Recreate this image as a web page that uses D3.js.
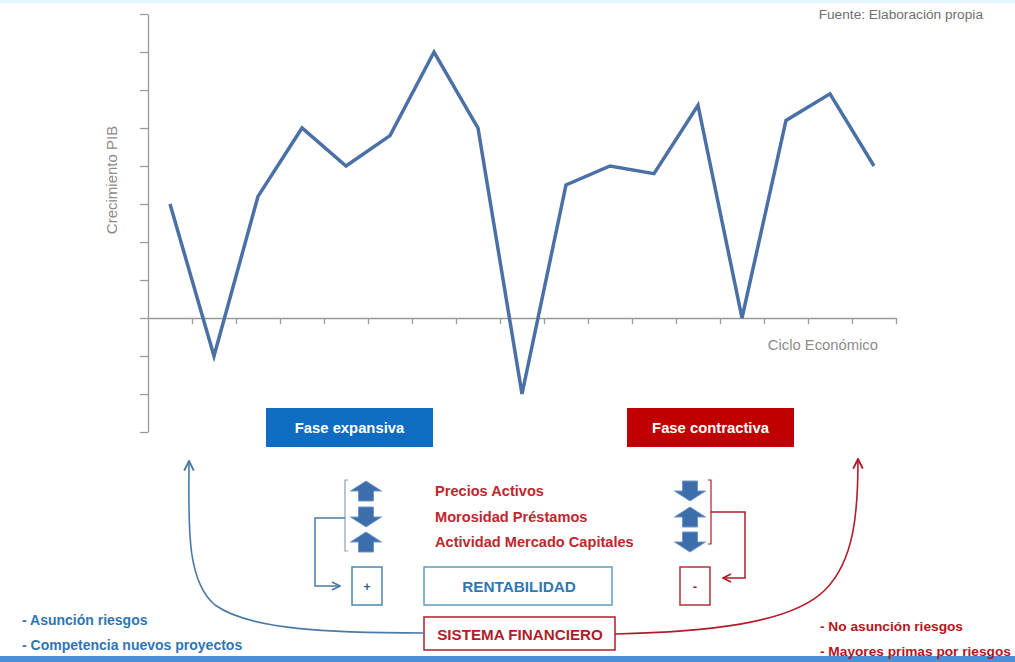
<!DOCTYPE html>
<html><head><meta charset="utf-8">
<script src="https://cdn.jsdelivr.net/npm/d3@7"></script>
<style>
html,body{margin:0;padding:0;background:#fff;}
svg{display:block;font-family:"Liberation Sans",Arial,sans-serif;}
</style></head>
<body>
<svg id="chart" width="1015" height="662"></svg>
<script>
// ---- data ----
const periods = ["P1","P2","P3","P4","P5","P6","P7","P8","P9","P10","P11","P12","P13","P14","P15","P16","P17"];
const gdpGrowth = [3.0, -1.0, 3.2, 5.0, 4.0, 4.8, 7.0, 5.0, -2.0, 3.5, 4.0, 3.8, 5.6, 0.0, 5.2, 5.9, 4.0];
const yTicks = [-3,-2,-1,0,1,2,3,4,5,6,7,8];
const yLabel = "Crecimiento PIB";
const xLabel = "Ciclo Económico";
const source = "Fuente: Elaboración propia";
const phases = ["Fase expansiva", "Fase contractiva"];
const factors = ["Precios Activos", "Morosidad Préstamos", "Actividad Mercado Capitales"];
const expansionDirs = ["up", "down", "up"];
const contractionDirs = ["down", "up", "down"];
const signs = ["+", "-"];
const centerLabels = ["RENTABILIDAD", "SISTEMA FINANCIERO"];
const leftNotes = ["- Asunción riesgos", "- Competencia nuevos proyectos"];
const rightNotes = ["- No asunción riesgos", "- Mayores primas por riesgos"];

const svg = d3.select("#chart");
const blue = "#0f6cc0", red = "#c00000", lineBlue = "#4a70a6", grey = "#8c8c8c";
const bcol = "#4a7aa8", rcol = "#b01c2a";

// top and bottom frame bands
svg.append("rect").attr("x",0).attr("y",0).attr("width",1015).attr("height",3).attr("fill","#e4f6fb");
svg.append("rect").attr("x",0).attr("y",656).attr("width",1015).attr("height",6).attr("fill","#4a8fd8");

// ---- scales ----
const x = d3.scaleLinear().domain([0, periods.length]).range([148, 896]);
const y = d3.scaleLinear().domain([-3, 8]).range([432, 14]);

// y axis
const yAxis = svg.append("g").attr("transform","translate(148,0)")
  .call(d3.axisLeft(y).tickValues(yTicks).tickSize(8).tickSizeOuter(0).tickFormat(""));
yAxis.selectAll("path,line").attr("stroke","#9a9a9a").attr("stroke-width",1.3);

// x axis (category boundaries)
const xAxis = svg.append("g").attr("transform",`translate(0,${y(0)})`)
  .call(d3.axisBottom(x).tickValues(d3.range(1, periods.length + 1)).tickSize(6).tickSizeOuter(0).tickFormat(""));
xAxis.selectAll("path,line").attr("stroke","#9a9a9a").attr("stroke-width",1.3);

// line
const line = d3.line().x((d,i) => x(i + 0.5)).y(d => y(d));
svg.append("path").datum(gdpGrowth).attr("d", line)
  .attr("fill","none").attr("stroke", lineBlue).attr("stroke-width",3.5).attr("stroke-linejoin","miter");

// axis titles
svg.append("text").attr("transform","translate(117,180) rotate(-90)").attr("text-anchor","middle")
  .attr("font-size",15).attr("fill",grey).text(yLabel);
svg.append("text").attr("x",878).attr("y",350).attr("text-anchor","end")
  .attr("font-size",14.8).attr("fill",grey).text(xLabel);
svg.append("text").attr("x",983).attr("y",19).attr("text-anchor","end")
  .attr("font-size",13.7).attr("fill","#707070").text(source);

// phase boxes
const phaseX = [266, 627], phaseCol = [blue, red];
phases.forEach((p,i) => {
  svg.append("rect").attr("x",phaseX[i]).attr("y",408).attr("width",167).attr("height",39).attr("fill",phaseCol[i]);
  svg.append("text").attr("x",phaseX[i]+83.5).attr("y",433).attr("text-anchor","middle")
    .attr("font-size",14.8).attr("font-weight","bold").attr("fill","#fff").text(p);
});

// block arrows
function blockArrow(cx, cy, dir){
  const w=31, hh=10, sw=15, sh=10;
  const s = dir === "up" ? 1 : -1;
  const top = cy - s*(hh+sh)/2;
  const pts = [
    [cx, top],
    [cx + w/2, top + s*hh],
    [cx + sw/2, top + s*hh],
    [cx + sw/2, top + s*(hh+sh)],
    [cx - sw/2, top + s*(hh+sh)],
    [cx - sw/2, top + s*hh],
    [cx - w/2, top + s*hh]
  ];
  svg.append("path").attr("d", d3.line()(pts) + "Z")
    .attr("fill","#3d6eac").attr("stroke","#6d95c6").attr("stroke-width",1);
}
const rowY = [491, 517, 542];
expansionDirs.forEach((d,i) => blockArrow(366, rowY[i], d));
contractionDirs.forEach((d,i) => blockArrow(690, rowY[i], d));

// factor texts
factors.forEach((f,i) => {
  svg.append("text").attr("x",435).attr("y",rowY[i]+5).attr("font-size",14.6).attr("font-weight","bold")
    .attr("fill","#c0262d").text(f);
});

// markers
const defs = svg.append("defs");
function marker(id, col, size){
  defs.append("marker").attr("id",id).attr("viewBox","0 0 10 10").attr("refX",9).attr("refY",5)
    .attr("markerWidth",size).attr("markerHeight",size).attr("markerUnits","userSpaceOnUse").attr("orient","auto")
    .append("path").attr("d","M1,1 L9,5 L1,9").attr("fill","none").attr("stroke",col).attr("stroke-width",1.6);
}
marker("mb", bcol, 10); marker("mr", rcol, 10);
marker("mb2", bcol, 12); marker("mr2", rcol, 12);

// left bracket + connector
svg.append("path").attr("d","M348,480 L345,480 L345,551 L348,551").attr("fill","none").attr("stroke","#8aa0b8").attr("stroke-width",1.2);
svg.append("path").attr("d","M345,518 L315,518 L315,586 L340,586").attr("fill","none").attr("stroke",bcol).attr("stroke-width",1.5).attr("marker-end","url(#mb)");
// right bracket + connector
svg.append("path").attr("d","M708,480 L711,480 L711,544 L708,544").attr("fill","none").attr("stroke",rcol).attr("stroke-width",1.2);
svg.append("path").attr("d","M711,512 L745,512 L745,578 L723,578").attr("fill","none").attr("stroke",rcol).attr("stroke-width",1.5).attr("marker-end","url(#mr)");

// sign boxes
const signX = [352, 680], signCol = ["#4a86b0", "#b0303a"], signTxt = ["#2e5f8e", "#8a1a22"];
signs.forEach((s,i) => {
  svg.append("rect").attr("x",signX[i]).attr("y",567).attr("width",30).attr("height",38)
    .attr("fill","#fff").attr("stroke",signCol[i]).attr("stroke-width",1.5);
  svg.append("text").attr("x",signX[i]+15).attr("y",591).attr("text-anchor","middle")
    .attr("font-size",12).attr("font-weight","bold").attr("fill",signTxt[i]).text(s);
});

// center boxes
svg.append("rect").attr("x",424).attr("y",567).attr("width",188).attr("height",38)
  .attr("fill","#fff").attr("stroke","#5f9cc0").attr("stroke-width",1.5);
svg.append("text").attr("x",519).attr("y",592).attr("text-anchor","middle").attr("font-size",15.3)
  .attr("font-weight","bold").attr("fill","#2f78b4").text(centerLabels[0]);
svg.append("rect").attr("x",424).attr("y",617).attr("width",191).attr("height",33)
  .attr("fill","#fff").attr("stroke",rcol).attr("stroke-width",1.5);
svg.append("text").attr("x",520).attr("y",639.5).attr("text-anchor","middle").attr("font-size",15.2)
  .attr("font-weight","bold").attr("fill","#b01c2a").text(centerLabels[1]);

// curved arrows
svg.append("path").attr("d","M424,633 C330,633 250,630 215,605 C185,580 189,520 189,461")
  .attr("fill","none").attr("stroke",bcol).attr("stroke-width",1.6).attr("marker-end","url(#mb2)");
svg.append("path").attr("d","M615,634 C700,632 790,625 825,590 C855,560 858,510 858,459")
  .attr("fill","none").attr("stroke",rcol).attr("stroke-width",1.6).attr("marker-end","url(#mr2)");

// notes
leftNotes.forEach((t,i) => {
  svg.append("text").attr("x",22).attr("y",625 + i*25).attr("font-size",14).attr("font-weight","bold")
    .attr("fill","#2e75b6").text(t);
});
rightNotes.forEach((t,i) => {
  svg.append("text").attr("x",820).attr("y",631 + i*25).attr("font-size",13.7).attr("font-weight","bold")
    .attr("fill","#b81420").text(t);
});
</script>
</body></html>
